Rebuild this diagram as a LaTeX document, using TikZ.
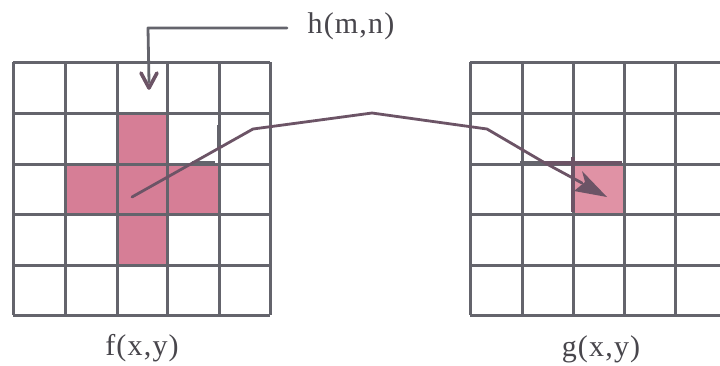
\documentclass[tikz,border=0pt]{standalone}
\usepackage{fontspec}
\setmainfont{Liberation Serif}[LetterSpace=4]
\usetikzlibrary{arrows.meta}
\definecolor{gridc}{RGB}{100,100,108}
\definecolor{pinkc}{RGB}{214,126,150}
\definecolor{pinkl}{RGB}{224,146,165}
\definecolor{connc}{RGB}{108,84,102}
\definecolor{textc}{RGB}{72,70,76}
\tikzset{
  gridline/.style={draw=gridc, line width=3pt},
  conn/.style={draw=connc, line width=2.8pt, line cap=round, line join=round},
  tick/.style={draw=gridc, line width=2.2pt},
  lbl/.style={text=textc, font=\fontsize{30}{32}\selectfont, anchor=base, inner sep=0pt}
}
\begin{document}
\begin{tikzpicture}[x=1pt,y=-1pt]
\useasboundingbox (0,0) rectangle (720,365);
\fill[white] (0,0) rectangle (720,365);
% pink cells, left cross
\fill[pinkc] (117,113) rectangle (167,265);
\fill[pinkc] (65,164) rectangle (219,214);
% pink cell, right
\fill[pinkl] (573,164) rectangle (624,214);
% left grid
\foreach \x in {13,65,117,167,219,270} \draw[gridline] (\x,62) -- (\x,315);
\foreach \y in {62,113,164,214,265,315} \draw[gridline] (13,\y) -- (270,\y);
% right grid
\foreach \x in {470,522,573,624,675} \draw[gridline] (\x,62) -- (\x,315);
\foreach \y in {62,113,164,214,265,315} \draw[gridline] (470,\y) -- (726,\y);
% labels
\node[lbl] (hlabel) at (351,33) {h(m,n)};
\node[lbl] (flabel) at (142,355) {f(x,y)};
\node[lbl] (glabel) at (601,356) {g(x,y)};
% h(m,n) pointer
\coordinate (hstart) at (287,28);
\coordinate (hcorner) at (148,28);
\coordinate (htip) at (149,88);
\draw[conn, draw=gridc] (hstart) -- (hcorner) -- (149,82);
\draw[conn, line width=3.6pt] (141,73) -- (htip) -- (157,73);
% ticks
\draw[tick] (218,125) -- (218,150);
\draw[tick] (192,162) -- (215,162);
\draw[tick] (520,162) -- (544,162);
% main connector
\coordinate (src) at (132,197);
\coordinate (k1) at (253,129);
\coordinate (k2) at (372,113);
\coordinate (k3) at (487,129);
\coordinate (k4) at (545,163);
\coordinate (dst) at (607,197);
\draw[conn] (src) -- (k1) -- (k2) -- (k3) -- (k4) -- (582,183);
% arrow head
\fill[connc] (dst) -- (582,171) -- (585,182) -- (574,191) -- cycle;
% dark border on target cell
\draw[draw=connc, line width=3.6pt] (k4) -- (622,163);
\draw[draw=connc, line width=3.6pt] (573,157) -- (573,212);
\end{tikzpicture}
\end{document}
